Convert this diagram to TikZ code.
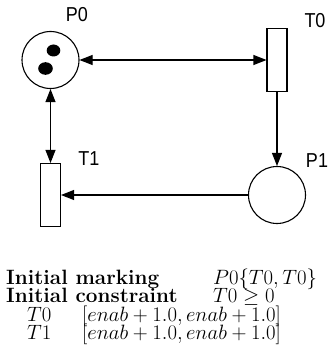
\documentclass[tikz,border=0pt]{standalone}
\usepackage{fontspec}
\newfontfamily\labfont{Liberation Sans}
\usetikzlibrary{arrows.meta}
\newcommand{\tallbl}[1]{\scalebox{1}[1.12]{#1}}
\begin{document}
\begin{tikzpicture}[x=1pt,y=-1pt,
  place/.style={draw,circle,line width=1.1pt,minimum size=57pt,inner sep=0pt},
  trans/.style={draw,rectangle,line width=1.1pt,minimum width=20pt,minimum height=63pt,inner sep=0pt},
  lbl/.style={font=\labfont\fontsize{18}{18}\selectfont,inner sep=0pt},
  txt/.style={font=\huge,anchor=base west,inner sep=0pt},
  arc/.style={line width=1.1pt,-{Triangle[length=13pt,width=10pt]}},
  dblarc/.style={line width=1.1pt,{Triangle[length=13pt,width=10pt]}-{Triangle[length=13pt,width=10pt]}}]
\useasboundingbox (0,0) rectangle (329,361);
% places and transitions
\node[place] (p0) at (50.5,60) {};
\node[place] (p1) at (277,195) {};
\node[trans] (t0) at (277,60) {};
\node[trans] (t1) at (50.5,195) {};
% tokens
\fill (53.5,50.5) ellipse [x radius=6.8pt, y radius=6pt];
\fill (45.5,68.5) ellipse [x radius=7.3pt, y radius=6.3pt];
% labels
\node[lbl] (lp0) at (77,15) {\tallbl{P0}};
\node[lbl] (lt0) at (315,21) {\tallbl{T0}};
\node[lbl] (lt1) at (89,159) {\tallbl{T1}};
\node[lbl] (lp1) at (317,161) {\tallbl{P1}};
% arcs
\draw[dblarc] (p0) -- (t0);
\draw[dblarc] (p0) -- (t1);
\draw[arc] (t0) -- (p1);
\draw[arc] (p1) -- (t1);
% text
\node[txt] (a1) at (6,284) {\bfseries Initial marking};
\node[txt] (b1) at (213,284) {$P0\{T0,T0\}$};
\node[txt] (a2) at (6,302) {\bfseries Initial constraint};
\node[txt] (b2) at (213,302) {$T0\geq 0$};
\node[txt] (a3) at (27,321) {$T0$};
\node[txt] (b3) at (82,321) {$[enab+1.0,enab+1.0]$};
\node[txt] (a4) at (27,339) {$T1$};
\node[txt] (b4) at (82,339) {$[enab+1.0,enab+1.0]$};
\end{tikzpicture}
\end{document}
